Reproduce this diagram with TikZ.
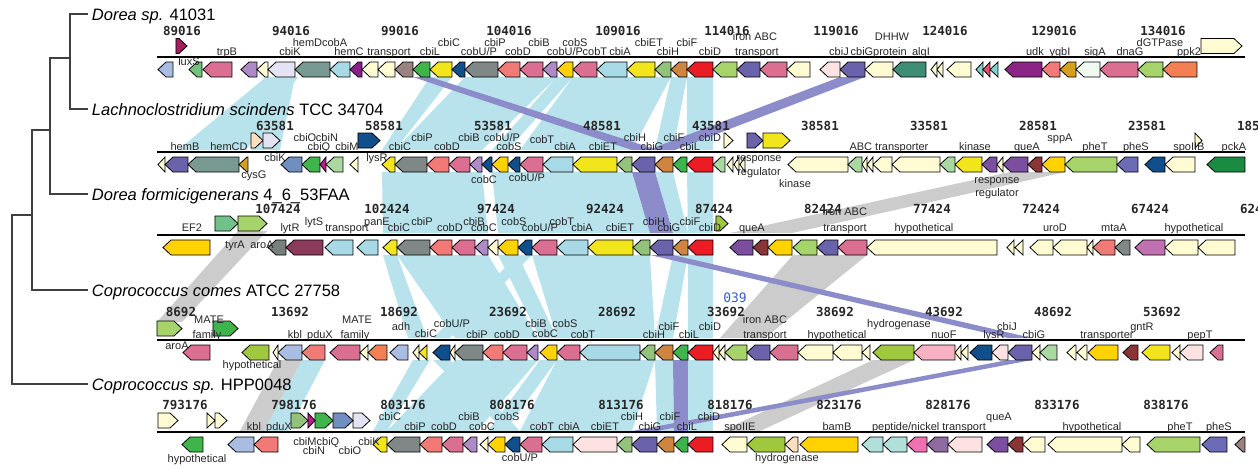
\documentclass[tikz,border=0pt]{standalone}
\usepackage{fontspec}
\setmainfont{Liberation Sans}
\newfontfamily\posfont{DejaVu Sans Mono}
\newlength{\ux}
\setlength{\ux}{0.1pt}
% gene colours
\definecolor{gLsb}{RGB}{169,189,227}
\definecolor{gMint}{RGB}{116,193,126}
\definecolor{gPink}{RGB}{218,111,145}
\definecolor{gLpurple}{RGB}{174,139,198}
\definecolor{gCream}{RGB}{255,251,210}
\definecolor{gLavender}{RGB}{227,227,243}
\definecolor{gGraygreen}{RGB}{120,154,147}
\definecolor{gLblue}{RGB}{167,218,230}
\definecolor{gPurple}{RGB}{140,30,140}
\definecolor{gMauve}{RGB}{154,130,130}
\definecolor{gGreen}{RGB}{61,181,74}
\definecolor{gYellow}{RGB}{243,229,27}
\definecolor{gNavy}{RGB}{14,79,140}
\definecolor{gGrey}{RGB}{127,135,135}
\definecolor{gSalmon}{RGB}{242,122,118}
\definecolor{gGold}{RGB}{255,210,0}
\definecolor{gOlive}{RGB}{147,194,122}
\definecolor{gOrange}{RGB}{206,133,64}
\definecolor{gRed}{RGB}{236,28,36}
\definecolor{gLime}{RGB}{166,212,107}
\definecolor{gSlate}{RGB}{106,99,171}
\definecolor{gLpink}{RGB}{253,226,226}
\definecolor{gTeal}{RGB}{61,140,116}
\definecolor{gAqua}{RGB}{128,210,207}
\definecolor{gCoralred}{RGB}{232,80,106}
\definecolor{gMagenta}{RGB}{139,37,132}
\definecolor{gGoldenrod}{RGB}{213,160,29}
\definecolor{gWhitegreen}{RGB}{241,250,241}
\definecolor{gCoral}{RGB}{244,127,82}
\definecolor{gLuxs}{RGB}{160,31,92}
\definecolor{gHotmag}{RGB}{196,22,141}
\definecolor{gSage}{RGB}{169,217,161}
\definecolor{gViolet}{RGB}{124,78,160}
\definecolor{gDarkred}{RGB}{139,52,54}
\definecolor{gPheS}{RGB}{107,107,182}
\definecolor{gPckA}{RGB}{26,139,65}
\definecolor{gSteel}{RGB}{111,143,193}
\definecolor{gPeach}{RGB}{253,223,191}
\definecolor{gEFgreen}{RGB}{113,193,139}
\definecolor{gDarkgrey}{RGB}{120,127,124}
\definecolor{gMaroon}{RGB}{139,58,92}
\definecolor{gOrchid}{RGB}{192,113,177}
\definecolor{gYgreen}{RGB}{159,200,63}
\definecolor{gRose}{RGB}{248,177,194}
\definecolor{gPaleteal}{RGB}{176,224,217}
\definecolor{gHotpink}{RGB}{240,113,177}
\definecolor{gPlum}{RGB}{141,107,161}
% comparison and text colours
\definecolor{cmpcyan}{RGB}{185,227,236}
\definecolor{cmpviolet}{RGB}{140,140,203}
\definecolor{cmpsilver}{RGB}{204,204,204}
\definecolor{strayblue}{RGB}{58,91,199}
\definecolor{inkgrey}{RGB}{38,38,38}
\definecolor{treegrey}{RGB}{64,64,64}
\tikzset{
  gene/.style={draw=black, line width=0.08pt, line join=miter},
  lblset/.style={font=\fontsize{1.1}{1.1}\selectfont, anchor=base west, inner sep=0pt, text=inkgrey},
  posset/.style={font=\posfont\bfseries\fontsize{1.25}{1.25}\selectfont, anchor=base west, inner sep=0pt, text=inkgrey},
  species/.style={font=\fontsize{1.65}{1.65}\selectfont, anchor=west, inner sep=0pt,
    text height=1.6pt, text depth=0.3pt, text=black},
  trackline/.style={draw=black, line width=0.11pt},
  treeline/.style={line width=0.13pt, draw=treegrey},
}
% reverse genes of one colour: colour, list start/end/top
\newcommand{\revgenes}[2]{%
  \filldraw[gene, fill=#1] \foreach \xa/\xb/\yt in {#2}
    {(\xa,\yt+7.5) -- ({\xa+min(8,\xb-\xa)},\yt) -- (\xb,\yt) -- (\xb,\yt+15) -- ({\xa+min(8,\xb-\xa)},\yt+15) -- cycle};}
% forward genes of one colour
\newcommand{\fwdgenes}[2]{%
  \filldraw[gene, fill=#1] \foreach \xa/\xb/\yt in {#2}
    {(\xb,\yt+7.5) -- ({\xb-min(8,\xb-\xa)},\yt) -- (\xa,\yt) -- (\xa,\yt+15) -- ({\xb-min(8,\xb-\xa)},\yt+15) -- cycle};}
% a set of labels x/y/text, set from the top left corner
\newcommand{\labelset}[1]{\foreach \lx/\ly/\lt in {#1}{\rlap{\hspace*{\lx\ux}\raisebox{-\ly\ux}{\makebox[0pt]{\lt}}}}}
% a row of ten positions: first x, first number, sign of the step
\newcommand{\numrow}[3]{\foreach \i in {0,...,9}{\rlap{\hspace*{\dimexpr\ux*\numexpr#1+109*\i\relax\relax}\makebox[0pt]{\the\numexpr#2#35000*\i\relax}}}}
\begin{document}
\begin{tikzpicture}[x=\ux,y=-\ux]
  \useasboundingbox (0,0) rectangle (1258,468);
  % comparisons
  \fill[cmpcyan] \foreach \ta/\tb/\ua/\ub in {430/452/382/395, 465/498/395/427, 498/520/427/449, 520/543/449/470, 543/557/470/482, 557/573/492/508, 573/597/520/543, 597/627/543/573, 627/655/573/617, 655/671/617/632, 671/687/655/673, 687/713/687/713, 266/298/178/246, 268/295/251/280}
    {(\ta,77) -- (\tb,77) -- (\ub,150) -- (\ua,150) -- cycle};
  \fill[cmpcyan] \foreach \ta/\tb/\ua/\ub in {382/395/383/397, 395/427/397/430, 427/449/430/452, 449/470/452/475, 470/482/475/488, 492/508/498/518, 508/520/518/532, 520/543/532/557, 543/573/557/588, 573/617/588/633, 617/632/633/650, 655/673/673/688, 687/713/688/713}
    {(\ta,172) -- (\tb,172) -- (\ub,233) -- (\ua,233) -- cycle};
  \fill[cmpcyan] \foreach \ta/\tb/\ua/\ub in {383/397/408/427, 397/430/455/483, 430/452/483/503, 452/475/503/527, 475/488/527/538, 498/518/540/557, 518/532/433/450, 532/557/557/580, 557/633/580/640, 633/650/640/655, 673/688/655/673, 688/713/688/713}
    {(\ta,255) -- (\tb,255) -- (\ub,338) -- (\ua,338) -- cycle};
  \fill[cmpcyan] \foreach \ta/\tb/\ua/\ub in {302/325/264/288, 413/430/373/387, 455/483/387/420, 483/503/420/442, 503/527/442/463, 527/538/463/477, 540/557/488/505, 433/450/505/520, 557/580/520/542, 580/640/542/617, 640/655/617/632, 655/673/657/674, 688/713/688/713}
    {(\ta,360) -- (\tb,360) -- (\ub,431) -- (\ua,431) -- cycle};
  \fill[cmpsilver] \foreach \ya/\yb/\ta/\tb/\ua/\ub in {172/233/1010/1065/730/792, 231/322/238/267/157/182, 255/338/793/867/720/765, 360/431/278/302/240/264, 360/431/873/914/722/760}
    {(\ta,\ya) -- (\tb,\ya) -- (\ub,\yb) -- (\ua,\yb) -- cycle};
  \fill[cmpviolet] \foreach \ya/\yb/\ta/\tb/\ua/\ub in {77/150/413/430/632/658, 77/150/840/865/648/675, 172/233/632/655/650/673, 255/338/650/673/1008/1032, 360/431/1008/1032/632/657, 360/431/673/688/674/688}
    {(\ta,\ya) -- (\tb,\ya) -- (\ub,\yb) -- (\ua,\yb) -- cycle};
  % species and tree
  \node[species] (sp1) at (90,14) {\textit{Dorea sp.} 41031};
  \node[species] (sp2) at (90,109) {\textit{Lachnoclostridium scindens} TCC 34704};
  \node[species] (sp3) at (90,194) {\textit{Dorea formicigenerans} 4\_6\_53FAA};
  \node[species] (sp4) at (90,290) {\textit{Coprococcus comes} ATCC 27758};
  \node[species] (sp5) at (90,384) {\textit{Coprococcus sp.} HPP0048};
  \coordinate (c1) at (70,58);
  \coordinate (c2) at (50,130);
  \coordinate (c3) at (32,215);
  \coordinate (c4) at (12,384);
  \draw[treeline] ([xshift=-0.2pt]sp1.west) -| (c1) |- ([xshift=-0.2pt]sp2.west)
    (c1) -| (c2) |- ([xshift=-0.2pt]sp3.west)
    (c2) -| (c3) |- ([xshift=-0.2pt]sp4.west)
    (c3) -| (c4) -- ([xshift=-0.2pt]sp5.west);
  % track lines
  \draw[trackline] (157,57) -- (1245,57) (157,152) -- (1245,152) (157,235) -- (1245,235)
    (157,340) -- (1245,340) (157,432) -- (1245,432);
  % genes, by colour
  \revgenes{gLsb}{158/173/62, 278/302/345, 390/408/345, 228/254/437}
  \revgenes{gMint}{189/202/62}
  \revgenes{gPink}{203/232/62, 520/543/62, 573/597/62, 760/787/62, 1100/1138/62, 449/470/157, 520/543/157, 452/475/240, 532/557/240, 838/867/240, 183/210/345, 330/360/345, 503/527/345, 557/580/345, 770/798/345, 1210/1223/345, 442/463/437, 520/542/437}
  \revgenes{gLpurple}{241/257/62, 543/557/62, 470/482/157, 475/488/240, 527/538/345, 463/477/437}
  \revgenes{gCream}{257/268/62, 362/378/62, 378/395/62, 787/810/62, 865/893/62, 931/937/62, 937/943/62, 947/971/62, 158/165/157, 350/358/157, 727/733/157, 734/739/157, 740/745/157, 788/848/157, 862/867/157, 867/873/157, 873/892/157, 892/940/157, 997/1003/157, 1165/1195/157, 488/498/240, 867/997/240, 1007/1014/240, 1015/1023/240, 1030/1053/240, 1053/1087/240, 1087/1093/240, 1165/1198/240, 1198/1235/240, 273/278/345, 360/368/345, 413/419/345, 450/455/345, 713/719/345, 719/725/345, 798/833/345, 833/862/345, 862/870/345, 955/961/345, 961/968/345, 1032/1040/345, 1067/1076/345, 1077/1087/345, 1172/1180/345, 480/488/437, 722/747/437, 1023/1045/437, 1048/1122/437, 1122/1140/437}
  \revgenes{gLavender}{268/295/62}
  \revgenes{gGraygreen}{295/330/62, 188/239/157}
  \revgenes{gLblue}{330/350/62, 597/627/62, 543/573/157, 325/353/240, 357/378/240, 557/588/240, 580/640/345, 542/573/437}
  \revgenes{gPurple}{350/362/62}
  \revgenes{gMauve}{395/413/62, 1235/1245/437}
  \revgenes{gGreen}{413/430/62, 302/320/157, 673/687/157, 673/688/345, 182/203/437, 674/688/437}
  \revgenes{gYellow}{430/452/62, 627/655/62, 382/395/157, 573/617/157, 955/982/157, 383/397/240, 588/633/240, 419/427/345, 1142/1170/345, 373/387/437}
  \revgenes{gNavy}{452/465/62, 482/492/157, 508/520/157, 1145/1165/157, 518/532/240, 433/450/345, 970/992/345, 505/520/437}
  \revgenes{gGrey}{465/498/62, 395/427/157, 397/430/240, 1115/1130/240, 455/483/345, 387/420/437}
  \revgenes{gSalmon}{498/520/62, 1042/1060/62, 427/449/157, 430/452/240, 1093/1115/240, 302/325/345, 483/503/345, 254/278/437, 420/442/437}
  \revgenes{gGold}{557/573/62, 492/508/157, 1042/1065/157, 163/210/240, 498/518/240, 768/792/240, 540/557/345, 1088/1118/345, 488/505/437, 800/858/437}
  \revgenes{gOlive}{655/671/62, 617/632/157, 633/650/240, 640/655/345, 617/632/437}
  \revgenes{gOrange}{671/687/62, 655/673/157, 673/688/240, 655/673/345, 657/674/437}
  \revgenes{gRed}{687/713/62, 687/713/157, 688/713/240, 688/713/345, 688/713/437}
  \revgenes{gLime}{713/737/62, 1138/1163/62, 1065/1117/157, 793/817/240, 725/747/345, 1147/1200/437}
  \revgenes{gSlate}{737/760/62, 840/865/62, 165/188/157, 632/655/157, 650/673/240, 817/838/240, 747/770/345, 1008/1032/345, 632/657/437}
  \revgenes{gLpink}{820/840/62, 992/1008/345, 1180/1203/345, 573/617/437, 948/982/437}
  \revgenes{gTeal}{893/926/62}
  \revgenes{gAqua}{976/983/62, 990/998/62}
  \revgenes{gCoralred}{983/990/62}
  \revgenes{gMagenta}{1005/1042/62}
  \revgenes{gGoldenrod}{1060/1076/62, 239/248/157}
  \revgenes{gWhitegreen}{1076/1100/62}
  \revgenes{gCoral}{1163/1197/62, 368/387/345}
  \revgenes{gSteel}{281/302/157}
  \revgenes{gHotmag}{320/326/157}
  \revgenes{gSage}{326/343/157, 713/725/157, 848/862/157, 940/955/157, 1040/1057/345}
  \revgenes{gViolet}{982/997/157, 1003/1028/157, 730/753/240, 987/1008/437}
  \revgenes{gDarkred}{1028/1042/157, 753/768/240, 1123/1138/345, 1008/1023/437}
  \revgenes{gPheS}{1117/1138/157, 1202/1227/437}
  \revgenes{gPckA}{1207/1245/157}
  \revgenes{gDarkgrey}{268/286/240}
  \revgenes{gMaroon}{286/323/240}
  \revgenes{gOrchid}{1135/1165/240}
  \revgenes{gYgreen}{242/269/345, 873/914/345, 747/785/437}
  \revgenes{gRose}{914/955/345}
  \revgenes{gPeach}{785/798/437}
  \revgenes{gPaleteal}{862/883/437, 883/907/437}
  \revgenes{gHotpink}{907/927/437}
  \revgenes{gPlum}{927/948/437}
  \fwdgenes{gLuxs}{176/187/38.5}
  \fwdgenes{gCream}{1201/1242/38.5, 724/733/133, 1195/1202/133, 158/178/413, 207/215/413, 215/227/413}
  \fwdgenes{gPeach}{251/263/133}
  \fwdgenes{gLavender}{263/280/133, 353/370/413}
  \fwdgenes{gNavy}{358/380/133}
  \fwdgenes{gSlate}{747/763/133}
  \fwdgenes{gYellow}{763/790/133}
  \fwdgenes{gEFgreen}{215/238/216}
  \fwdgenes{gLime}{238/267/216, 157/182/321}
  \fwdgenes{gYgreen}{716/728/216}
  \fwdgenes{gGreen}{213/238/321, 315/333/413}
  \fwdgenes{gOlive}{291/308/413}
  \fwdgenes{gHotmag}{308/315/413}
  \fwdgenes{gSteel}{333/353/413}
  % positions
  \node[posset] (nums1) at (0,35) {\numrow{175}{89016}{+}};
  \node[posset] (nums2) at (0,130) {\numrow{268}{63581}{-}};
  \node[posset] (nums3) at (0,213) {\numrow{271}{107424}{-}};
  \node[posset] (nums4) at (0,316) {\numrow{174}{8692}{+}};
  \node[posset] (nums5) at (0,409) {\numrow{178}{793176}{+}};
  \node[font=\posfont\fontsize{1.3}{1.3}\selectfont, text=strayblue, inner sep=0pt] (stray) at (735,298) {039};
  % gene labels, one set for each track
  \node[lblset] (labels1) at (0,0) {\labelset{220/55.5/trpB, 283/55.5/cbiK, 342/55.5/hemC, 382/55.5/transport, 423/55.5/cbiL, 472/55.5/{cobU/P}, 511/55.5/cobD, 558/55.5/{cobU/P}, 588/55.5/cobT, 613/55.5/cbiA, 661/55.5/cbiH, 703/55.5/cbiD, 750/55.5/transport, 832/55.5/cbiJ, 855/55.5/cbiG, 883/55.5/protein, 914/55.5/algI, 1028/55.5/udk, 1053/55.5/ygbI, 1088/55.5/sigA, 1123/55.5/dnaG, 1182/55.5/ppk2, 313/46/hemDcobA, 442/46/cbiC, 488/46/cbiP, 532/46/cbiB, 568/46/cobS, 642/46/cbiET, 680/46/cbiF, 1153/46/dGTPase, 748/40.5/{iron ABC}, 885/40.5/DHHW, 182/65/luxS}};
  \node[lblset] (labels2) at (0,0) {\labelset{178/150/hemB, 222/150/hemCD, 312/150/cbiQ, 340/150/cbiM, 393/150/cbiC, 440/150/cobD, 502/150/cobS, 558/150/cbiA, 596/150/cbiET, 645/150/cbiG, 683/150/cbiL, 882/150/{ABC transporter}, 968/150/kinase, 1020/150/queA, 1088/150/pheT, 1129/150/pheS, 1182/150/spoIIB, 1227/150/pckA, 298/141.5/cbiO, 320/141.5/cbiN, 415/141.5/cbiP, 462/141.5/cbiB, 495/141.5/{cobU/P}, 535/143.5/cobT, 628/141.5/cbiH, 667/141.5/cbiF, 703/141.5/cbiD, 1053/141.5/sppA, 268/161.5/cbiK, 370/161.5/lysR, 752/161.5/response, 752/175.5/regulator, 788/187.5/kinase, 247/178.5/cysG, 477/183.5/cobC, 520/181.5/{cobU/P}, 990/183.5/response, 990/196.5/regulator}};
  \node[lblset] (labels3) at (0,0) {\labelset{185/231.5/EF2, 283/231.5/lytR, 340/231.5/transport, 392/231.5/cbiC, 443/231.5/cobD, 477/231.5/cobC, 533/231.5/{cobU/P}, 575/231.5/cbiA, 613/231.5/cbiET, 662/231.5/cbiG, 703/231.5/cbiD, 745/231.5/queA, 838/231.5/transport, 917/231.5/hypothetical, 1048/231.5/uroD, 1107/231.5/mtaA, 1187/231.5/hypothetical, 307/225/lytS, 370/225/panE, 415/225/cbiP, 467/225/cbiB, 507/225/cobS, 555/225/cobT, 647/225/cbiH, 683/225/cbiF, 838/215.5/{iron ABC}, 228/248.5/tyrA, 255/248.5/aroA}};
  \node[lblset] (labels4) at (0,0) {\labelset{200/338.5/family, 288/338.5/kbl, 313/338.5/pduX, 348/338.5/family, 419/337/cbiC, 470/338.5/cbiP, 500/338.5/cobD, 538/337/cobC, 576/338.5/cobT, 647/338.5/cbiH, 682/338.5/cbiL, 758/338.5/transport, 830/338.5/hypothetical, 937/338.5/nuoF, 987/338.5/lysR, 1027/338.5/cbiG, 1100/338.5/transporter, 1193/338.5/pepT, 394/330/adh, 662/330/cbiF, 703/330/cbiD, 1000/330/cbiJ, 1135/330/gntR, 445/327.5/{cobU/P}, 529/327.5/cbiB, 558/327.5/cobS, 892/327.5/hydrogenase, 202/323.5/MATE, 350/323.5/MATE, 758/323.5/{iron ABC}, 170/349/aroA, 245/368.5/hypothetical}};
  \node[lblset] (labels5) at (0,0) {\labelset{247/430/kbl, 272/430/pduX, 408/430/cbiP, 437/430/cobD, 475/430/cobC, 535/430/cobT, 562/430/cbiA, 598/430/cbiET, 643/430/cbiG, 680/430/cbiL, 733/430/spoIIE, 830/430/bamB, 922/430/{peptide/nickel transport}, 1085/430/hypothetical, 1173/430/pheT, 1212/430/pheS, 383/420.5/cbiC, 462/420.5/cbiB, 500/420.5/cobS, 625/420.5/cbiH, 663/420.5/cbiF, 702/420.5/cbiD, 992/420.5/queA, 298/445.5/cbiM, 321/445.5/cbiQ, 362/445.5/cbiK, 307/454.5/cbiN, 343/454.5/cbiO, 190/462.5/hypothetical, 513/461.5/{cobU/P}, 780/461.5/hydrogenase}};
\end{tikzpicture}
\end{document}
